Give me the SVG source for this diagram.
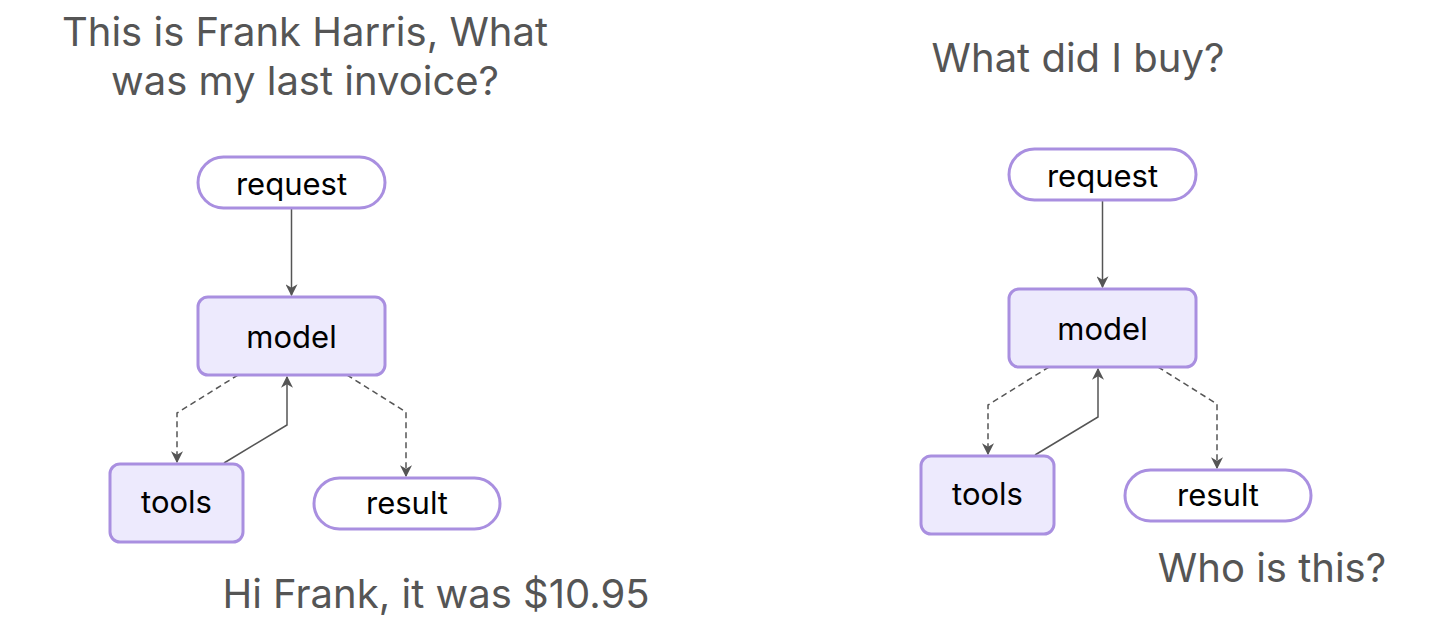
<svg xmlns="http://www.w3.org/2000/svg" width="1456" height="637" viewBox="0 0 1456 637">
<defs>
<style>
.cap{font-family:Inter,"Liberation Sans",sans-serif;font-size:40px;fill:#555;text-anchor:middle}
.lbl{font-family:Inter,"Liberation Sans",sans-serif;font-size:31px;fill:#000;text-anchor:middle}
.term{fill:#fff;stroke:#a98fe0;stroke-width:3}
.proc{fill:#edeafd;stroke:#a98fe0;stroke-width:3}
.e{fill:none;stroke:#555;stroke-width:1.5}
.d{stroke-dasharray:6 4}
</style>
<marker id="ah" viewBox="0 0 10 10" refX="9" refY="5" markerWidth="12" markerHeight="12" markerUnits="userSpaceOnUse" orient="auto">
<path d="M0,0 L10,5 L0,10 L3,5 Z" fill="#555"/>
</marker>
<g id="diagram">
<g id="edges">
<path class="e" d="M291.5,209 V295" marker-end="url(#ah)"/>
<path class="e d" d="M238,375 L177,413 V462" marker-end="url(#ah)"/>
<path class="e" d="M224,463 L287,425 V377" marker-end="url(#ah)"/>
<path class="e d" d="M347,375 L406,412 V476" marker-end="url(#ah)"/>
</g>
<g id="request"><rect class="term" x="198" y="157" width="187" height="51" rx="25.5"/><text class="lbl" x="291.5" y="195">request</text></g>
<g id="model"><rect class="proc" x="198" y="297" width="187" height="78" rx="10"/><text class="lbl" x="291.5" y="348">model</text></g>
<g id="tools"><rect class="proc" x="110" y="464" width="133" height="78" rx="10"/><text class="lbl" x="176.5" y="513">tools</text></g>
<g id="result"><rect class="term" x="314" y="478" width="186" height="51" rx="25.5"/><text class="lbl" x="407" y="514">result</text></g>
</g>
</defs>
<g id="left">
<use href="#diagram"/>
</g>
<g id="right" transform="translate(811,-8)">
<use href="#diagram"/>
</g>
<g id="captions">
<text class="cap" x="305" y="46">This is Frank Harris, What</text>
<text class="cap" x="305" y="95">was my last invoice?</text>
<text class="cap" x="1078" y="72">What did I buy?</text>
<text class="cap" x="436" y="608">Hi Frank, it was $10.95</text>
<text class="cap" x="1272" y="582">Who is this?</text>
</g>
</svg>
